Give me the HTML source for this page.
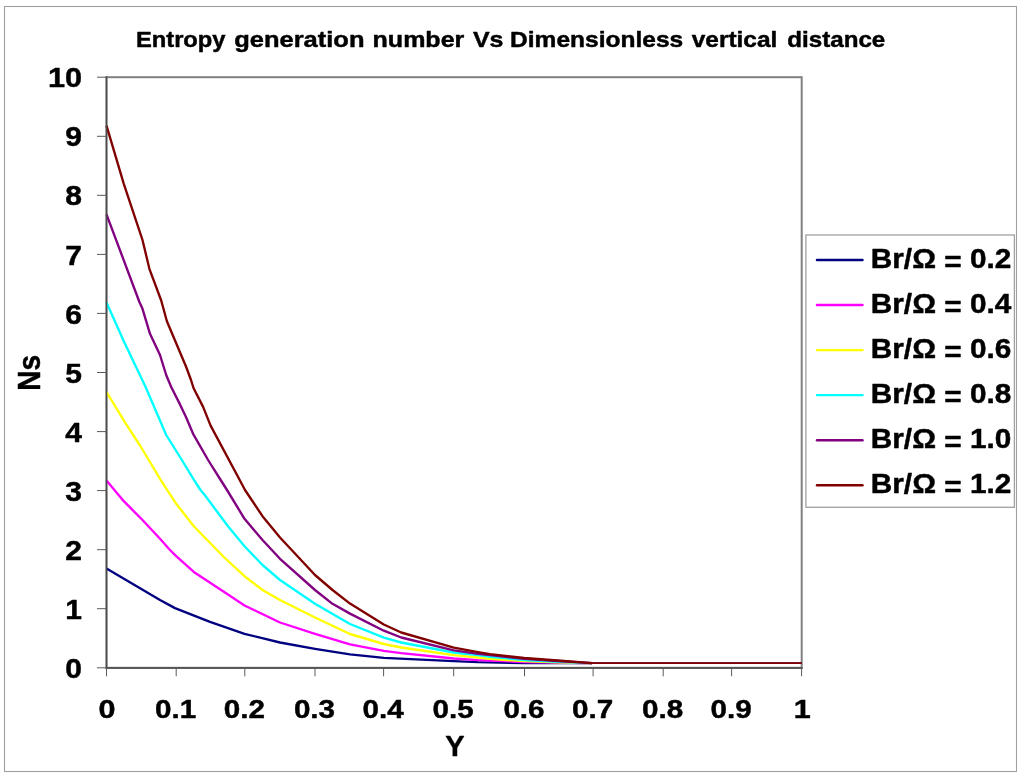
<!DOCTYPE html>
<html><head><meta charset="utf-8"><title>Entropy generation number Vs Dimensionless vertical distance</title>
<style>html,body{margin:0;padding:0;background:#fff}svg{display:block}text{stroke:#000;stroke-width:.45px;stroke-linejoin:round}</style></head>
<body>
<svg width="1024" height="779" viewBox="0 0 1024 779" font-family="Liberation Sans, Arial, sans-serif" font-weight="bold" fill="#000">
<rect x="0" y="0" width="1024" height="779" fill="#fff"/>
<rect x="4.5" y="6.5" width="1012" height="765" fill="none" stroke="#a0a0a0" stroke-width="1.1"/>
<rect x="106.5" y="77.2" width="695.2" height="590.5999999999999" fill="#fff" stroke="#808080" stroke-width="2"/>
<polyline points="106.5,568.5 160.0,600.0 175.0,608.1 210.0,621.9 228.0,628.1 244.5,633.8 280.0,642.5 315.0,648.8 350.0,654.4 383.8,657.9 453.8,661.2 478.0,662.2 524.2,663.0 592.0,663.1" fill="none" stroke="#000080" stroke-width="2.35" stroke-linejoin="round"/>
<line x1="591" y1="663.1" x2="801.7" y2="663.1" stroke="#000080" stroke-width="1.9"/>
<polyline points="106.5,480.4 123.8,501.2 142.5,520.0 160.0,538.8 170.0,550.0 176.2,556.2 193.8,571.9 228.0,594.4 244.5,605.5 280.0,622.5 315.0,633.8 350.0,644.4 383.8,650.9 401.2,653.1 453.8,658.5 478.0,660.1 490.0,660.6 524.2,662.0 557.5,662.7 592.0,663.1" fill="none" stroke="#FF00FF" stroke-width="2.35" stroke-linejoin="round"/>
<line x1="591" y1="663.1" x2="801.7" y2="663.1" stroke="#FF00FF" stroke-width="1.9"/>
<polyline points="106.5,392.0 125.0,422.3 140.0,445.5 148.8,460.0 160.0,478.8 176.2,503.8 193.8,526.2 223.8,557.0 244.5,576.2 262.5,590.0 280.0,600.0 315.0,617.5 350.0,634.0 383.8,644.0 401.2,647.5 453.8,655.2 478.0,657.5 490.0,658.8 524.2,661.2 557.5,662.3 592.0,663.1" fill="none" stroke="#FFFF00" stroke-width="2.35" stroke-linejoin="round"/>
<line x1="591" y1="663.1" x2="801.7" y2="663.1" stroke="#FFFF00" stroke-width="1.9"/>
<polyline points="106.5,302.5 123.8,341.2 145.6,387.0 166.2,435.0 180.0,457.0 193.8,479.6 200.5,490.0 204.5,494.8 228.0,526.2 244.5,546.2 262.5,565.0 280.0,580.0 315.0,603.8 350.0,624.0 383.8,637.7 401.2,642.5 453.8,652.5 478.0,655.0 490.0,656.8 524.2,660.0 557.5,661.8 592.0,663.1" fill="none" stroke="#00FFFF" stroke-width="2.35" stroke-linejoin="round"/>
<line x1="591" y1="663.1" x2="801.7" y2="663.1" stroke="#00FFFF" stroke-width="1.9"/>
<polyline points="106.5,214.3 139.4,302.0 142.5,308.8 150.0,333.8 160.0,355.0 166.2,375.0 171.2,387.0 180.0,404.4 186.2,417.5 193.1,433.8 208.1,460.0 211.2,465.0 218.8,477.0 227.0,490.0 244.5,518.8 262.5,540.0 280.0,558.8 315.0,590.0 332.5,603.8 350.0,613.6 383.8,630.7 401.2,637.5 453.8,650.3 478.0,653.8 490.0,655.0 524.2,658.8 557.5,661.0 592.0,663.1" fill="none" stroke="#800080" stroke-width="2.35" stroke-linejoin="round"/>
<line x1="591" y1="663.1" x2="801.7" y2="663.1" stroke="#800080" stroke-width="1.9"/>
<polyline points="106.5,125.7 123.8,183.8 142.5,240.0 149.4,268.8 161.2,300.5 166.9,321.2 186.2,367.0 191.0,380.0 193.5,388.0 203.1,406.9 210.6,425.6 238.1,477.0 245.0,490.0 262.5,516.2 280.0,537.5 315.0,575.0 332.5,590.0 350.0,603.6 383.8,624.5 401.2,632.5 453.8,647.6 478.0,652.1 490.0,654.2 524.2,658.0 557.5,660.5 592.0,663.1" fill="none" stroke="#800000" stroke-width="2.35" stroke-linejoin="round"/>
<line x1="591" y1="663.1" x2="801.7" y2="663.1" stroke="#800000" stroke-width="1.9"/>
<line x1="106.5" y1="76.2" x2="106.5" y2="668.8" stroke="#4a4a4a" stroke-width="1.5"/>
<line x1="105.5" y1="668.0" x2="802.7" y2="668.0" stroke="#4a4a4a" stroke-width="1.5"/>
<line x1="97.0" y1="667.8" x2="106.5" y2="667.8" stroke="#5a5a5a" stroke-width="1"/>
<line x1="106.5" y1="667.8" x2="106.5" y2="676.3" stroke="#5a5a5a" stroke-width="1"/>
<line x1="97.0" y1="608.7" x2="106.5" y2="608.7" stroke="#5a5a5a" stroke-width="1"/>
<line x1="176.2" y1="667.8" x2="176.2" y2="676.3" stroke="#5a5a5a" stroke-width="1"/>
<line x1="97.0" y1="549.7" x2="106.5" y2="549.7" stroke="#5a5a5a" stroke-width="1"/>
<line x1="244.8" y1="667.8" x2="244.8" y2="676.3" stroke="#5a5a5a" stroke-width="1"/>
<line x1="97.0" y1="490.6" x2="106.5" y2="490.6" stroke="#5a5a5a" stroke-width="1"/>
<line x1="315.0" y1="667.8" x2="315.0" y2="676.3" stroke="#5a5a5a" stroke-width="1"/>
<line x1="97.0" y1="431.6" x2="106.5" y2="431.6" stroke="#5a5a5a" stroke-width="1"/>
<line x1="383.6" y1="667.8" x2="383.6" y2="676.3" stroke="#5a5a5a" stroke-width="1"/>
<line x1="97.0" y1="372.5" x2="106.5" y2="372.5" stroke="#5a5a5a" stroke-width="1"/>
<line x1="453.7" y1="667.8" x2="453.7" y2="676.3" stroke="#5a5a5a" stroke-width="1"/>
<line x1="97.0" y1="313.4" x2="106.5" y2="313.4" stroke="#5a5a5a" stroke-width="1"/>
<line x1="524.5" y1="667.8" x2="524.5" y2="676.3" stroke="#5a5a5a" stroke-width="1"/>
<line x1="97.0" y1="254.4" x2="106.5" y2="254.4" stroke="#5a5a5a" stroke-width="1"/>
<line x1="593.1" y1="667.8" x2="593.1" y2="676.3" stroke="#5a5a5a" stroke-width="1"/>
<line x1="97.0" y1="195.3" x2="106.5" y2="195.3" stroke="#5a5a5a" stroke-width="1"/>
<line x1="663.2" y1="667.8" x2="663.2" y2="676.3" stroke="#5a5a5a" stroke-width="1"/>
<line x1="97.0" y1="136.3" x2="106.5" y2="136.3" stroke="#5a5a5a" stroke-width="1"/>
<line x1="731.6" y1="667.8" x2="731.6" y2="676.3" stroke="#5a5a5a" stroke-width="1"/>
<line x1="97.0" y1="77.2" x2="106.5" y2="77.2" stroke="#5a5a5a" stroke-width="1"/>
<line x1="801.6" y1="667.8" x2="801.6" y2="676.3" stroke="#5a5a5a" stroke-width="1"/>
<text x="82" y="677.9" font-size="27" text-anchor="end" textLength="16.7" lengthAdjust="spacingAndGlyphs">0</text>
<text x="82" y="618.8" font-size="27" text-anchor="end" textLength="16.7" lengthAdjust="spacingAndGlyphs">1</text>
<text x="82" y="559.8" font-size="27" text-anchor="end" textLength="16.7" lengthAdjust="spacingAndGlyphs">2</text>
<text x="82" y="500.7" font-size="27" text-anchor="end" textLength="16.7" lengthAdjust="spacingAndGlyphs">3</text>
<text x="82" y="441.7" font-size="27" text-anchor="end" textLength="16.7" lengthAdjust="spacingAndGlyphs">4</text>
<text x="82" y="382.6" font-size="27" text-anchor="end" textLength="16.7" lengthAdjust="spacingAndGlyphs">5</text>
<text x="82" y="323.5" font-size="27" text-anchor="end" textLength="16.7" lengthAdjust="spacingAndGlyphs">6</text>
<text x="82" y="264.5" font-size="27" text-anchor="end" textLength="16.7" lengthAdjust="spacingAndGlyphs">7</text>
<text x="82" y="205.4" font-size="27" text-anchor="end" textLength="16.7" lengthAdjust="spacingAndGlyphs">8</text>
<text x="82" y="146.4" font-size="27" text-anchor="end" textLength="16.7" lengthAdjust="spacingAndGlyphs">9</text>
<text x="82" y="87.3" font-size="27" text-anchor="end" textLength="34.1" lengthAdjust="spacingAndGlyphs">10</text>
<text x="107.1" y="718.1" font-size="26.6" text-anchor="middle" textLength="17.0" lengthAdjust="spacingAndGlyphs">0</text>
<text x="175.7" y="718.1" font-size="26.6" text-anchor="middle" textLength="41.2" lengthAdjust="spacingAndGlyphs">0.1</text>
<text x="244.3" y="718.1" font-size="26.6" text-anchor="middle" textLength="41.2" lengthAdjust="spacingAndGlyphs">0.2</text>
<text x="314.5" y="718.1" font-size="26.6" text-anchor="middle" textLength="41.2" lengthAdjust="spacingAndGlyphs">0.3</text>
<text x="383.1" y="718.1" font-size="26.6" text-anchor="middle" textLength="41.2" lengthAdjust="spacingAndGlyphs">0.4</text>
<text x="453.2" y="718.1" font-size="26.6" text-anchor="middle" textLength="41.2" lengthAdjust="spacingAndGlyphs">0.5</text>
<text x="524.0" y="718.1" font-size="26.6" text-anchor="middle" textLength="41.2" lengthAdjust="spacingAndGlyphs">0.6</text>
<text x="592.6" y="718.1" font-size="26.6" text-anchor="middle" textLength="41.2" lengthAdjust="spacingAndGlyphs">0.7</text>
<text x="662.7" y="718.1" font-size="26.6" text-anchor="middle" textLength="41.2" lengthAdjust="spacingAndGlyphs">0.8</text>
<text x="731.1" y="718.1" font-size="26.6" text-anchor="middle" textLength="41.2" lengthAdjust="spacingAndGlyphs">0.9</text>
<text x="802.2" y="718.1" font-size="26.6" text-anchor="middle" textLength="17.0" lengthAdjust="spacingAndGlyphs">1</text>
<g font-size="21.8">
<text x="135.9" y="47" textLength="89.7" lengthAdjust="spacingAndGlyphs">Entropy</text>
<text x="234.2" y="47" textLength="130.3" lengthAdjust="spacingAndGlyphs">generation</text>
<text x="372.6" y="47" textLength="91.7" lengthAdjust="spacingAndGlyphs">number</text>
<text x="473.0" y="47" textLength="30.5" lengthAdjust="spacingAndGlyphs">Vs</text>
<text x="510.1" y="47" textLength="173.1" lengthAdjust="spacingAndGlyphs">Dimensionless</text>
<text x="691.7" y="47" textLength="85.7" lengthAdjust="spacingAndGlyphs">vertical</text>
<text x="787.3" y="47" textLength="98.0" lengthAdjust="spacingAndGlyphs">distance</text>
</g>
<text x="454.8" y="755.5" font-size="29" text-anchor="middle">Y</text>
<text transform="translate(40.4,372.8) rotate(-90) scale(1,1.15)" font-size="28" text-anchor="middle">Ns</text>
<rect x="805.9" y="235" width="208.5" height="272.3" fill="#fff" stroke="#a0a0a0" stroke-width="1.3"/>
<line x1="817" y1="260.0" x2="862.5" y2="260.0" stroke="#000080" stroke-width="2.45" stroke-linecap="round"/>
<text x="870.8" y="268.1" font-size="27.3" textLength="140.5" lengthAdjust="spacingAndGlyphs">Br/Ω <tspan dy="2.7">=</tspan><tspan dy="-2.7"> 0.2</tspan></text>
<line x1="817" y1="305.0" x2="862.5" y2="305.0" stroke="#FF00FF" stroke-width="2.45" stroke-linecap="round"/>
<text x="870.8" y="313.1" font-size="27.3" textLength="140.5" lengthAdjust="spacingAndGlyphs">Br/Ω <tspan dy="2.7">=</tspan><tspan dy="-2.7"> 0.4</tspan></text>
<line x1="817" y1="350.1" x2="862.5" y2="350.1" stroke="#FFFF00" stroke-width="2.45" stroke-linecap="round"/>
<text x="870.8" y="358.2" font-size="27.3" textLength="140.5" lengthAdjust="spacingAndGlyphs">Br/Ω <tspan dy="2.7">=</tspan><tspan dy="-2.7"> 0.6</tspan></text>
<line x1="817" y1="395.1" x2="862.5" y2="395.1" stroke="#00FFFF" stroke-width="2.45" stroke-linecap="round"/>
<text x="870.8" y="403.2" font-size="27.3" textLength="140.5" lengthAdjust="spacingAndGlyphs">Br/Ω <tspan dy="2.7">=</tspan><tspan dy="-2.7"> 0.8</tspan></text>
<line x1="817" y1="440.2" x2="862.5" y2="440.2" stroke="#800080" stroke-width="2.45" stroke-linecap="round"/>
<text x="870.8" y="448.3" font-size="27.3" textLength="140.5" lengthAdjust="spacingAndGlyphs">Br/Ω <tspan dy="2.7">=</tspan><tspan dy="-2.7"> 1.0</tspan></text>
<line x1="817" y1="485.2" x2="862.5" y2="485.2" stroke="#800000" stroke-width="2.45" stroke-linecap="round"/>
<text x="870.8" y="493.3" font-size="27.3" textLength="140.5" lengthAdjust="spacingAndGlyphs">Br/Ω <tspan dy="2.7">=</tspan><tspan dy="-2.7"> 1.2</tspan></text>
</svg>
</body></html>
